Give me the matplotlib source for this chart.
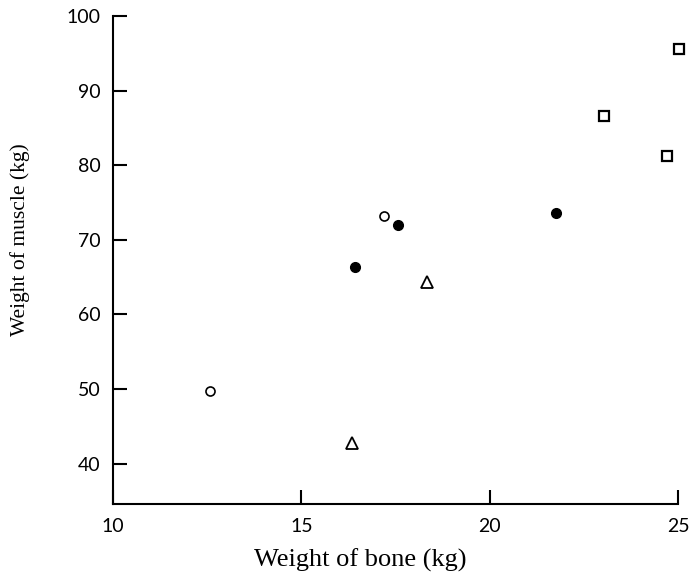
import matplotlib
matplotlib.use("Agg")
import matplotlib.pyplot as plt

# data
open_circ_x = [12.57, 17.2]
open_circ_y = [49.7, 73.2]
filled_circ_x = [16.43, 17.57, 21.77]
filled_circ_y = [66.3, 72.0, 73.6]
tri_x = [16.35, 18.33]
tri_y = [42.8, 64.3]
sq_x = [23.04, 24.7, 25.03]
sq_y = [86.6, 81.2, 95.6]

xticks = [10, 15, 20, 25]
yticks = [40, 50, 60, 70, 80, 90, 100]

tick_font = "Lato"
label_font = "Liberation Serif"

fig = plt.figure(figsize=(6.9, 5.74), dpi=100)
ax = fig.add_axes([0.1638, 0.122, 0.8188, 0.850])

ms = 6.5
ax.plot(open_circ_x, open_circ_y, "o", ms=ms, mfc="white", mec="black", mew=1.2, ls="none", clip_on=False)
ax.plot(filled_circ_x, filled_circ_y, "o", ms=ms + 0.5, mfc="black", mec="black", ls="none", clip_on=False)
ax.plot(tri_x, tri_y, "^", ms=ms + 1.5, mfc="white", mec="black", mew=1.3, ls="none", clip_on=False)
ax.plot(sq_x, sq_y, "s", ms=ms, mfc="white", mec="black", mew=1.6, ls="none", clip_on=False)

ax.set_xlim(10, 25)
ax.set_ylim(34.6, 100)
ax.set_xticks(xticks)
ax.set_yticks(yticks)

for s in ["top", "right"]:
    ax.spines[s].set_visible(False)
for s in ["left", "bottom"]:
    ax.spines[s].set_linewidth(1.5)

ax.tick_params(axis="both", direction="in", length=10, width=1.5)
ax.tick_params(axis="y", pad=9)
ax.tick_params(axis="x", pad=10)
for lab in ax.get_xticklabels() + ax.get_yticklabels():
    lab.set_fontfamily(tick_font)
    lab.set_fontsize(14)

ax.set_xlabel("Weight of bone (kg)", fontfamily=label_font, fontsize=19)
ax.set_ylabel("Weight of muscle (kg)", fontfamily=label_font, fontsize=15.5)
# labels sit a little off-centre in the original
ax.xaxis.set_label_coords(0.437, -0.092)
ax.yaxis.set_label_coords(-0.147, 0.541)

fig.savefig("out.png", dpi=100)
